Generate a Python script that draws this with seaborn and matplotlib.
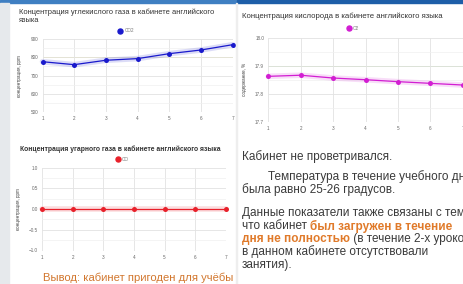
import numpy as np
import matplotlib.pyplot as plt
import seaborn as sns
import pandas as pd
from matplotlib.patches import Rectangle
from matplotlib.lines import Line2D

# ---------------- data ----------------
lessons = [1, 2, 3, 4, 5, 6, 7]
co2_ppm = [776, 760, 784, 793, 820, 840, 869]
o2_pct = [17.862, 17.866, 17.856, 17.850, 17.843, 17.837, 17.831]
co_ppm = [0, 0, 0, 0, 0, 0, 0]

co2_ticks = [500, 600, 700, 800, 900]
o2_ticks = [17.7, 17.8, 17.9, 18.0]
co_ticks = [-1.0, -0.5, 0.0, 0.5, 1.0]

title_co2 = 'Концентрация углекислого газа в кабинете английского\nязыка'
title_o2 = 'Концентрация кислорода в кабинете английского языка'
title_co = 'Концентрация угарного газа в кабинете английского языка'

df = pd.DataFrame({'lesson': lessons, 'CO2': co2_ppm, 'O2': o2_pct, 'CO': co_ppm})

sns.set_style('white')
plt.rcParams['font.family'] = ['Liberation Sans', 'DejaVu Sans']

W, H = 463, 284
fig = plt.figure(figsize=(W / 100, H / 100), dpi=100)
fig.patch.set_facecolor('white')


def box(x0, y0, x1, y1):
    return [x0 / W, 1 - y1 / H, (x1 - x0) / W, (y1 - y0) / H]


def px(x, y):
    return x / W, 1 - y / H


# slide decorations
fig.add_artist(Rectangle((0, 1 - 3 / H), 237 / W, 3 / H, color='#3f7fc2', transform=fig.transFigure))
fig.add_artist(Rectangle((237 / W, 1 - 3 / H), 1, 3 / H, color='#1d5ea8', transform=fig.transFigure))
fig.add_artist(Rectangle((0, 0), 9 / W, 1 - 3 / H, color='#e6e9ec', transform=fig.transFigure))
fig.add_artist(Rectangle((236 / W, 0), 1.5 / W, 1 - 3 / H, color='#eeeeee', transform=fig.transFigure))


def chart(rect, col, color, ticks, ylabel, title, title_xy, legend_xy, hl, hl_color, tsize=5.4, tweight='normal'):
    ax = fig.add_axes(box(*rect))
    # soft halo under the line
    ax.plot(df['lesson'], df[col], color=color, alpha=0.15, lw=4, solid_capstyle='round', clip_on=False)
    sns.lineplot(data=df, x='lesson', y=col, ax=ax, color=color, lw=0.9,
                 marker='o', markersize=3.6, markeredgewidth=0, clip_on=False)
    ax.set_xlim(1, 7)
    ax.set_ylim(ticks[0], ticks[-1])
    ax.set_xticks(lessons)
    ax.set_yticks(ticks)
    minor = [(a + b) / 2 for a, b in zip(ticks[:-1], ticks[1:])]
    ax.set_yticks(minor, minor=True)
    ax.grid(True, which='major', color='#e2e2e2', lw=0.6)
    ax.grid(True, which='minor', axis='y', color='#f0f0f0', lw=0.5)
    if hl is not None:
        ax.axhline(hl, color=hl_color, lw=0.7, zorder=0)
    for s in ax.spines.values():
        s.set_visible(False)
    ax.tick_params(labelsize=3.3, labelcolor='#666666', length=0, pad=3)
    ax.set_xlabel('')
    ax.set_ylabel(ylabel, fontsize=3.3, color='#444444', labelpad=6)
    fig.text(*px(*title_xy), title, fontsize=tsize, color='#333333', va='top', ha='left',
             linespacing=1.2, fontweight=tweight)
    h = Line2D([], [], color=color, marker='o', lw=0, markersize=3.6)
    ax.legend([h], [col], loc='center', bbox_to_anchor=px(*legend_xy), bbox_transform=fig.transFigure,
              frameon=False, fontsize=3.3, handlelength=1.0, handletextpad=0.4, labelcolor='#777777')
    return ax


chart((42.5, 39, 232.7, 112.3), 'CO2', '#1a1acc', co2_ticks, 'концентрация, ppm',
      title_co2, (19, 8.5), (126, 30.7), 800, '#f2eb9a', tsize=5.4)
chart((268.3, 37.7, 462.7, 121.7), 'O2', '#d21ed2', o2_ticks, 'содержание, %',
      title_o2, (241.5, 13), (353, 28.3), 17.9, '#bfe8a8', tsize=5.6)
chart((42.3, 167.7, 225.7, 250.5), 'CO', '#e8202a', co_ticks, 'концентрация, ppm',
      title_co, (20.5, 145.5), (122, 159.3), None, None, tsize=4.9, tweight='bold')

fig.text(*px(43, 278), 'Вывод: кабинет пригоден для учёбы', fontsize=8.1,
         color='#d2772e', va='center', ha='left')

# right text block (cut at the right edge, as on the slide screenshot)
fig.canvas.draw()
rend = fig.canvas.get_renderer()
TXT = '#3a3a3a'
ORG = '#e07a2a'
SIZE = 8.5


def line(x, y, pieces):
    for s, c, w in pieces:
        t = fig.text(*px(x, y), s, fontsize=SIZE, color=c, fontweight=w, va='center', ha='left')
        x += t.get_window_extent(renderer=rend).width


line(241.7, 157, [('Кабинет не проветривался.', TXT, 'normal')])
line(268.5, 177, [('Температура в течение учебного дня', TXT, 'normal')])
line(241.7, 190, [('была равно 25-26 градусов.', TXT, 'normal')])
line(241.7, 213, [('Данные показатели также связаны с тем,', TXT, 'normal')])
line(241.7, 226, [('что кабинет ', TXT, 'normal'), ('был загружен в течение', ORG, 'bold')])
line(241.7, 239, [('дня не полностью', ORG, 'bold'), (' (в течение 2-х уроков', TXT, 'normal')])
line(241.7, 252, [('в данном кабинете отсутствовали', TXT, 'normal')])
line(241.7, 265, [('занятия).', TXT, 'normal')])

fig.savefig('out.png', dpi=100)
